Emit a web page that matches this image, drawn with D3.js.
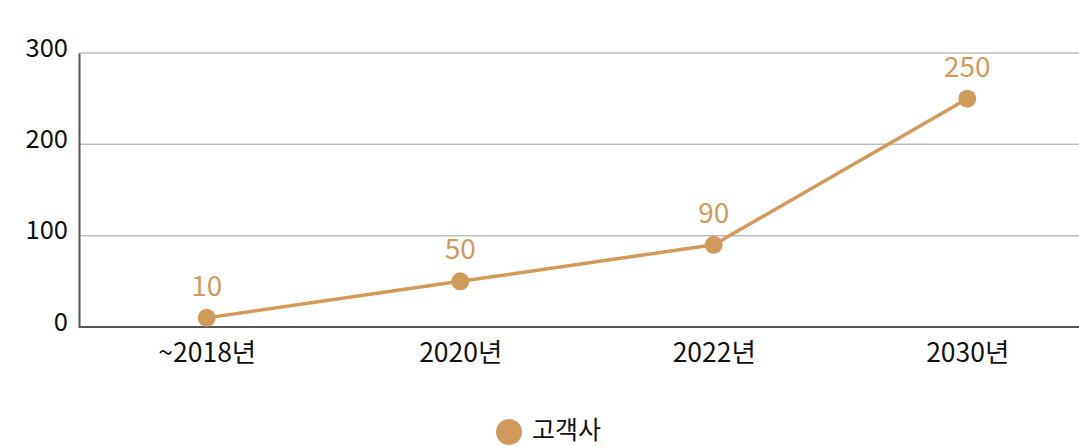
<!DOCTYPE html>
<html>
<head>
<meta charset="utf-8">
<script src="https://cdn.jsdelivr.net/npm/d3@7"></script>
<style>
    body { margin: 0; background: #fff; }
    svg, svg text { font-family: "Noto Sans CJK KR", "Noto Sans", sans-serif; }
    svg { display: block; }
</style>
</head>
<body>
<div id="chart"></div>
<script>
// Chart data
const categories = ['~2018년', '2020년', '2022년', '2030년'];
const customerValues = [10, 50, 90, 250];
const yTicks = [0, 100, 200, 300];
const seriesName = '고객사';

const WIDTH = 1079;
const HEIGHT = 447;
const LINE_COLOR = '#D19A5B';

const svg = d3.select('#chart')
    .append('svg')
    .attr('width', WIDTH)
    .attr('height', HEIGHT);

// Scales - plot area runs slightly past the right edge
const x = d3.scalePoint()
    .domain(categories)
    .range([80, 1094])
    .padding(0.5);

const y = d3.scaleLinear()
    .domain([0, 300])
    .range([327, 53]);

// Gridlines
svg.append('g')
    .selectAll('line')
    .data(yTicks.filter(t => t > 0))
    .join('line')
    .attr('x1', 79)
    .attr('x2', WIDTH)
    .attr('y1', d => y(d))
    .attr('y2', d => y(d))
    .style('stroke', '#bdbdbd')
    .style('stroke-width', 1.5);

// Y axis
const yAxis = svg.append('g')
    .attr('transform', 'translate(79,0)')
    .call(d3.axisLeft(y).tickValues(yTicks).tickSize(0).tickPadding(11))
    .attr('font-family', null);
yAxis.select('.domain').style('stroke', '#555').style('stroke-width', 2);
yAxis.selectAll('text')
    .style('font-size', '25.5px')
    .style('fill', '#111')
    .attr('dy', '0.12em');

// X axis
const xAxis = svg.append('g')
    .attr('transform', 'translate(0,327)')
    .call(d3.axisBottom(x).tickSize(0).tickPadding(16))
    .attr('font-family', null);
xAxis.select('.domain')
    .attr('d', `M79,0H${WIDTH}`)
    .style('stroke', '#555')
    .style('stroke-width', 2);
xAxis.selectAll('text')
    .style('font-size', '26.5px')
    .style('fill', '#111');

// Line
const points = categories.map((c, i) => ({ cat: c, value: customerValues[i] }));

svg.append('path')
    .datum(points)
    .attr('d', d3.line().x(d => x(d.cat)).y(d => y(d.value)))
    .style('fill', 'none')
    .style('stroke', LINE_COLOR)
    .style('stroke-width', 3.5);

svg.append('g')
    .selectAll('circle')
    .data(points)
    .join('circle')
    .attr('cx', d => x(d.cat))
    .attr('cy', d => y(d.value))
    .attr('r', 9)
    .style('fill', LINE_COLOR);

// Value labels with white halo
svg.append('g')
    .selectAll('text')
    .data(points)
    .join('text')
    .attr('x', d => x(d.cat))
    .attr('y', d => y(d.value) - 22)
    .attr('text-anchor', 'middle')
    .style('font-size', '28px')
    .style('fill', LINE_COLOR)
    .style('stroke', '#fff')
    .style('stroke-width', 3)
    .style('paint-order', 'stroke')
    .text(d => d.value);

// Legend
const legend = svg.append('g');
legend.append('circle')
    .attr('cx', 509)
    .attr('cy', 432)
    .attr('r', 13)
    .style('fill', LINE_COLOR);
legend.append('text')
    .attr('x', 532)
    .attr('y', 439)
    .style('font-size', '25px')
    .style('fill', '#111')
    .text(seriesName);
</script>
</body>
</html>
